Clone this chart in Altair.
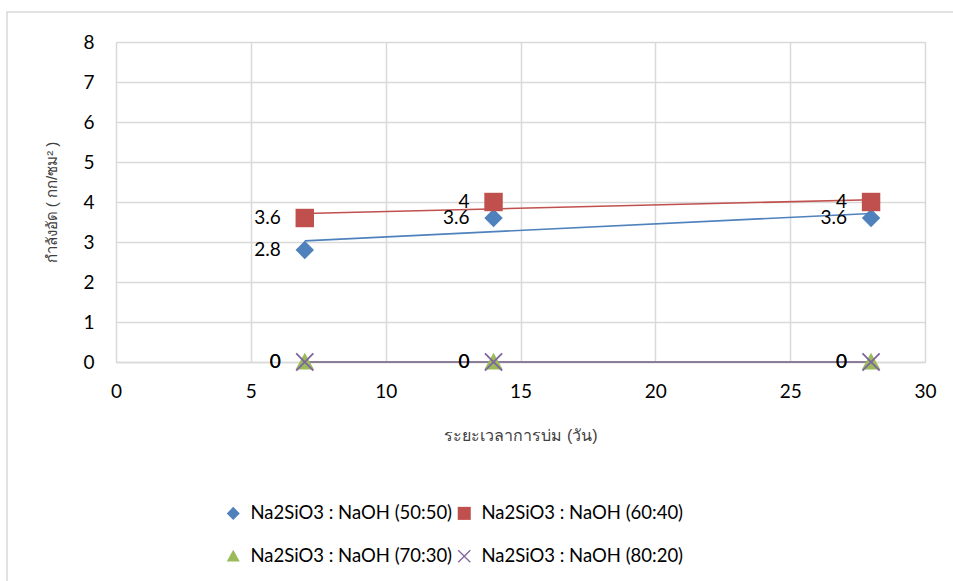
import altair as alt
import pandas as pd

# ---- data ----
days = [7, 14, 28]
series_names = [
    "Na2SiO3 : NaOH (50:50)",
    "Na2SiO3 : NaOH (60:40)",
    "Na2SiO3 : NaOH (70:30)",
    "Na2SiO3 : NaOH (80:20)",
]
v5050 = [2.8, 3.6, 3.6]
v6040 = [3.6, 4.0, 4.0]
v7030 = [0, 0, 0]
v8020 = [0, 0, 0]
x_ticks = [0, 5, 10, 15, 20, 25, 30]
y_ticks = [0, 1, 2, 3, 4, 5, 6, 7, 8]

colors = ["#4F81BD", "#C0504D", "#9BBB59", "#8064A2"]
X_PATH = ("M0,-0.14L0.86,-1L1,-0.86L0.14,0L1,0.86L0.86,1L0,0.14L-0.86,1"
          "L-1,0.86L-0.14,0L-1,-0.86L-0.86,-1Z")
DIAMOND = "M0,-1L1,0L0,1L-1,0Z"
TRIANGLE = "M0,-1L1,0.8L-1,0.8Z"
shapes = [DIAMOND, "square", TRIANGLE, X_PATH]

rows = []
for name, vals in zip(series_names, [v5050, v6040, v7030, v8020]):
    for d, v in zip(days, vals):
        rows.append({"day": d, "value": v, "series": name, "label": f"{v:g}"})
df = pd.DataFrame(rows)

FONT = "Lato"
color_scale = alt.Scale(domain=series_names, range=colors)
shape_scale = alt.Scale(domain=series_names, range=shapes)

x_enc = alt.X("day:Q", scale=alt.Scale(domain=[0, 30], nice=False),
              axis=alt.Axis(values=x_ticks, title="ระยะเวลาการบ่ม (วัน)",
                            grid=True, gridColor="#D9D9D9", gridWidth=1.5,
                            domain=True, domainColor="#D9D9D9", domainWidth=1.5,
                            ticks=False, labelPadding=20, labelFontSize=19,
                            labelFont=FONT, labelColor="#000000", labelFlush=False,
                            titleFontSize=16, titleFontWeight="normal",
                            titleColor="#404040", titlePadding=26))
y_enc = alt.Y("value:Q", scale=alt.Scale(domain=[0, 8], nice=False),
              axis=alt.Axis(values=y_ticks, title="กำลังอัด ( กก/ซม² )",
                            grid=True, gridColor="#D9D9D9", gridWidth=1.5,
                            domain=False, ticks=False, labelPadding=22,
                            labelFontSize=19, labelFont=FONT, labelColor="#000000",
                            labelFlush=False,
                            titleFontSize=15, titleFontWeight="normal",
                            titleColor="#404040", titlePadding=23))

legend = alt.Legend(title=None, orient="none", legendX=108, legendY=462,
                    direction="horizontal",
                    columns=2, columnPadding=2, rowPadding=24,
                    labelFontSize=18.5, labelFont=FONT, labelColor="#000000",
                    symbolSize=170, labelOffset=8, labelLimit=400)

border = alt.Chart(alt.Data(values=[{}])).mark_rect(
    fillOpacity=0, stroke="#D9D9D9", strokeWidth=1.5
).encode(x=alt.value(-109), x2=alt.value(900), y=alt.value(-30), y2=alt.value(700))

trend_layers = []
for name, col in zip(series_names, colors):
    trend_layers.append(
        alt.Chart(df).transform_filter(alt.datum.series == name).transform_regression(
            "day", "value", method="linear", extent=[7, 28]
        ).mark_line(strokeWidth=1.6, color=col).encode(x=x_enc, y=y_enc)
    )

points = alt.Chart(df).mark_point(filled=True, opacity=1, size=340).encode(
    x=x_enc, y=y_enc,
    color=alt.Color("series:N", scale=color_scale, legend=legend),
    shape=alt.Shape("series:N", scale=shape_scale, legend=legend),
)

labels = alt.Chart(df).mark_text(
    align="right", baseline="middle", dx=-24, fontSize=19, font=FONT, color="#000000"
).encode(x=x_enc, y=y_enc, text="label:N")

chart = alt.layer(border, *trend_layers, points, labels).properties(
    width=809, height=320,
    autosize=alt.AutoSizeParams(type="none"),
    padding={"left": 116, "top": 42, "right": 28, "bottom": 219},
).configure_view(strokeWidth=0).configure(background="white")

chart.save("out.html", embed_options={"renderer": "svg", "actions": False})
